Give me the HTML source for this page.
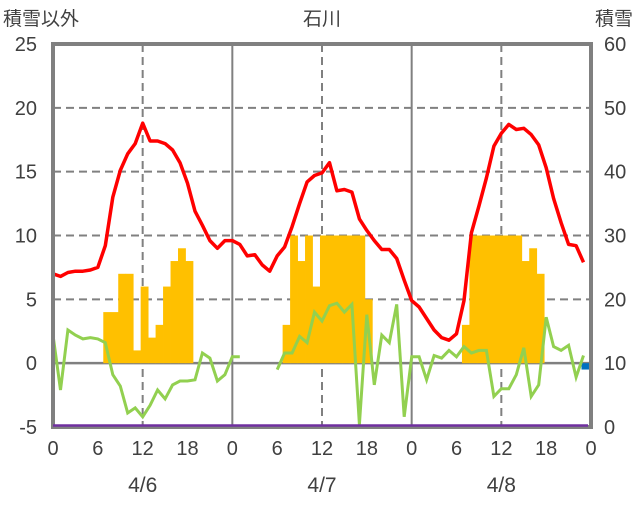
<!DOCTYPE html>
<html><head><meta charset="utf-8"><style>
html,body{margin:0;padding:0;background:#fff;}
svg text{font-family:"Liberation Sans","Noto Sans CJK JP",sans-serif;fill:#404040;}
</style></head><body>
<svg id="chart" width="636" height="501" viewBox="0 0 636 501" xmlns="http://www.w3.org/2000/svg">
<g id="grid"></g><g id="bars"></g><g id="lines"></g><g id="labels"></g>
<rect x="53" y="44" width="538" height="383" fill="none" stroke="#808080" stroke-width="4"/>
<g id="top"></g>
<text x="3" y="25" font-size="19">積雪以外</text>
<text x="322" y="25" font-size="19" text-anchor="middle">石川</text>
<text x="633" y="25" font-size="19" text-anchor="end">積雪</text>
</svg>
<script>
const red = [7.0,6.8,7.1,7.2,7.2,7.3,7.5,9.2,13.0,15.1,16.4,17.2,18.8,17.4,17.4,17.2,16.7,15.7,14.1,11.9,10.8,9.6,9.0,9.6,
9.6,9.3,8.4,8.5,7.7,7.2,8.4,9.1,10.7,12.5,14.2,14.7,14.9,15.7,13.5,13.6,13.4,11.3,10.4,9.6,8.9,8.9,8.2,6.5,
4.9,4.4,3.5,2.6,2.0,1.8,2.3,4.9,10.2,12.3,14.5,17.0,18.0,18.7,18.3,18.4,17.9,17.1,15.3,12.9,11.0,9.3,9.2,7.9];
const green = [2.2,-2.1,2.6,2.2,1.9,2.0,1.9,1.6,-0.9,-1.8,-3.9,-3.5,-4.2,-3.3,-2.1,-2.8,-1.7,-1.4,-1.4,-1.3,0.8,0.4,-1.4,-0.9,
0.5,0.5,null,null,null,null,-0.5,0.8,0.8,2.1,1.6,4.0,3.3,4.5,4.7,4.0,4.6,-4.8,3.8,-1.7,2.2,1.6,4.6,-4.2,
0.5,0.5,-1.3,0.6,0.4,1.0,0.5,1.3,0.8,1.0,1.0,-2.6,-2.0,-2.0,-0.9,1.2,-2.6,-1.7,3.6,1.3,1.0,1.4,-1.1,0.6];
const snowHours = [7,8,9,10,11,12,13,14,15,16,17,18, 31,32,33,34,35,36,37,38,39,40,41,42, 55,56,57,58,59,60,61,62,63,64,65];
const snowVals  = [4,4,7,7,1,6,2,3,6,8,9,8, 3,10,8,10,6,10,10,10,10,10,10,5, 3,10,10,10,10,10,10,10,8,9,7];
const blueHours = [71];
const blueVals = [-0.5];
const leftTicks = [25,20,15,10,5,0,-5];
const rightTicks = [60,50,40,30,20,10,0];
const hourTicks = ["0","6","12","18","0","6","12","18","0","6","12","18","0"];
const dates = ["4/6","4/7","4/8"];

const X0=53, X1=591, Y0=427, Y1=44;
const HW=(X1-X0)/72;
const x = h => X0 + h*HW;
const y = v => Y0 - (v+5)/30*(Y0-Y1);
const yr = v => Y0 - v/60*(Y0-Y1);
const NS="http://www.w3.org/2000/svg";
function mk(tag, parent){const e=document.createElementNS(NS,tag);document.getElementById(parent).appendChild(e);return e;}

leftTicks.forEach(v=>{
  if(v===25||v===-5) return;
  const l=mk('line','grid');
  
  
  l.setAttribute('x1',X0);l.setAttribute('x2',X1);l.setAttribute('y1',y(v));l.setAttribute('y2',y(v));
  l.setAttribute('stroke','#808080');l.setAttribute('stroke-width',v===0?2.5:2);
  if(v!==0) l.setAttribute('stroke-dasharray','8,5');
});
[12,36,60].forEach(h=>{
  const l=mk('line','grid');
  
  
  l.setAttribute('x1',x(h));l.setAttribute('x2',x(h));l.setAttribute('y1',Y1);l.setAttribute('y2',Y0);
  l.setAttribute('stroke','#808080');l.setAttribute('stroke-width',2);l.setAttribute('stroke-dasharray','8,5');
});
[24,48].forEach(h=>{
  const l=mk('line','grid');
  
  
  l.setAttribute('x1',x(h));l.setAttribute('x2',x(h));l.setAttribute('y1',Y1);l.setAttribute('y2',Y0);
  l.setAttribute('stroke','#808080');l.setAttribute('stroke-width',2);
});
snowHours.forEach((h,i)=>{
  const r=mk('rect','bars');
  
  
  const v=snowVals[i];
  r.setAttribute('x',x(h-0.27));r.setAttribute('width',HW+0.4);
  r.setAttribute('y',Math.min(y(v),y(0)));r.setAttribute('height',Math.abs(y(0)-y(v)));
  r.setAttribute('fill','#FFC000');
});
blueHours.forEach((h,i)=>{
  const r=mk('rect','bars');
  
  
  const v=blueVals[i];
  r.setAttribute('x',x(h-0.27));r.setAttribute('width',HW);
  r.setAttribute('y',Math.min(y(v),y(0)));r.setAttribute('height',Math.abs(y(0)-y(v)));
  r.setAttribute('fill','#0070C0');
});
const purple=mk('line','top');


purple.setAttribute('x1',X0);purple.setAttribute('x2',X1-3);purple.setAttribute('y1',Y0-1.5);purple.setAttribute('y2',Y0-1.5);
purple.setAttribute('stroke','#7030A0');purple.setAttribute('stroke-width',2.5);

function path(arr){
  let d='',pen=false;
  arr.forEach((v,i)=>{
    if(v===null){pen=false;return;}
    d+=(pen?'L':'M')+x(i).toFixed(1)+','+y(v).toFixed(1);pen=true;
  });
  return d;
}
const g=mk('path','lines');


g.setAttribute('d',path(green));g.setAttribute('fill','none');g.setAttribute('stroke','#92D050');g.setAttribute('stroke-width',3);
const r=mk('path','lines');


r.setAttribute('d',path(red));r.setAttribute('fill','none');r.setAttribute('stroke','#FF0000');r.setAttribute('stroke-width',3.5);r.setAttribute('stroke-linejoin','round');

leftTicks.forEach(v=>{
  const t=mk('text','labels');
  
  
  t.setAttribute('x',37);t.setAttribute('y',y(v)+7);t.setAttribute('text-anchor','end');t.setAttribute('font-size',20);
  t.textContent=v;
});
rightTicks.forEach(v=>{
  const t=mk('text','labels');
  
  
  t.setAttribute('x',604);t.setAttribute('y',yr(v)+7);t.setAttribute('font-size',20);
  t.textContent=v;
});
hourTicks.forEach((s,i)=>{
  const t=mk('text','labels');
  
  
  t.setAttribute('x',x(i*6));t.setAttribute('y',455);t.setAttribute('text-anchor','middle');t.setAttribute('font-size',20);
  t.textContent=s;
});
dates.forEach((s,i)=>{
  const t=mk('text','labels');
  
  
  t.setAttribute('x',x(12+24*i));t.setAttribute('y',492);t.setAttribute('text-anchor','middle');t.setAttribute('font-size',21);
  t.textContent=s;
});
</script>
</body></html>
